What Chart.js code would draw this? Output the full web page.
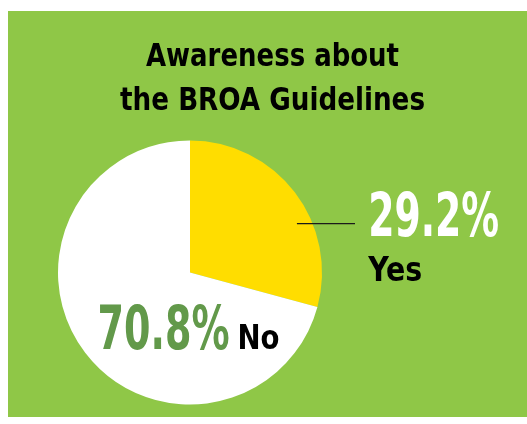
<!DOCTYPE html>
<html>
<head>
<meta charset="utf-8">
<script src="https://cdn.jsdelivr.net/npm/chart.js@4/dist/chart.umd.min.js"></script>
<style>
  html, body { margin: 0; padding: 0; background: #ffffff; }
  #wrap { width: 527px; height: 424px; position: relative; }
</style>
</head>
<body>
<div id="wrap"><canvas id="canvas" width="527" height="424"></canvas></div>
<script>
var answers = ["Yes", "No"];
var shares = [29.2, 70.8];
var sliceColors = ["#ffdd00", "#ffffff"];
var titleLines = ["Awareness about", "the BROA Guidelines"];

var bgGreen = "#8fc747";
var darkGreen = "#62994a";

// draws text squeezed (or stretched) horizontally to a given width
function fitText(ctx, text, x, y, font, width, color) {
	ctx.save();
	ctx.font = font;
	var w = ctx.measureText(text).width;
	ctx.translate(x, y);
	ctx.scale(width / w, 1);
	ctx.fillStyle = color;
	ctx.textBaseline = "alphabetic";
	ctx.textAlign = "left";
	ctx.fillText(text, 0, 0);
	ctx.restore();
}

var panel = {
	id: 'panel',
	beforeDraw: function(chart) {
		var c = chart.ctx;
		c.save();
		c.fillStyle = bgGreen;
		c.fillRect(8, 11, 519, 406);
		c.restore();
	},
	afterDraw: function(chart) {
		var c = chart.ctx;
		var arcs = chart.getDatasetMeta(0).data;
		var yes = arcs[0];
		var cx = yes.x, cy = yes.y, r = yes.outerRadius;

		// title
		fitText(c, titleLines[0], 146, 66, "bold 32px 'DejaVu Sans Condensed'", 253, "#000");
		fitText(c, titleLines[1], 120, 110, "bold 32px 'DejaVu Sans Condensed'", 305, "#000");

		// leader line out of the "Yes" slice
		var ly = cy - r * 0.37;
		c.save();
		c.strokeStyle = "#1a1a1a";
		c.lineWidth = 1.2;
		c.beginPath();
		c.moveTo(cx + r * 0.81, ly);
		c.lineTo(cx + r * 1.25, ly);
		c.stroke();
		c.restore();

		var numFont = "bold 60px 'DejaVu Sans Condensed'";
		var wordFont = "bold 33px 'DejaVu Sans Condensed'";
		var x0 = cx + r * 1.35;
		fitText(c, shares[0].toFixed(1) + "%", x0, cy - 37, numFont, 131, "#ffffff");
		fitText(c, answers[0], x0, cy + 8, wordFont, 54, "#000");

		fitText(c, shares[1].toFixed(1) + "%", cx - r * 0.7, cy + 76, numFont, 132, darkGreen);
		fitText(c, answers[1], cx + r * 0.36, cy + 76, wordFont, 42, "#000");
	}
};

var ctx = document.getElementById("canvas");

window.myCharts = new Chart(ctx, {
	type: 'pie',
	data: {
		labels: answers,
		datasets: [{
			data: shares,
			backgroundColor: sliceColors,
			borderWidth: 0
		}]
	},
	options: {
		responsive: false,
		animation: false,
		events: [],
		layout: { padding: { left: 58, top: 140, right: 205, bottom: 19 } },
		plugins: {
			legend: { display: false },
			tooltip: { enabled: false },
			title: { display: false }
		}
	},
	plugins: [panel]
});
</script>
</body>
</html>
